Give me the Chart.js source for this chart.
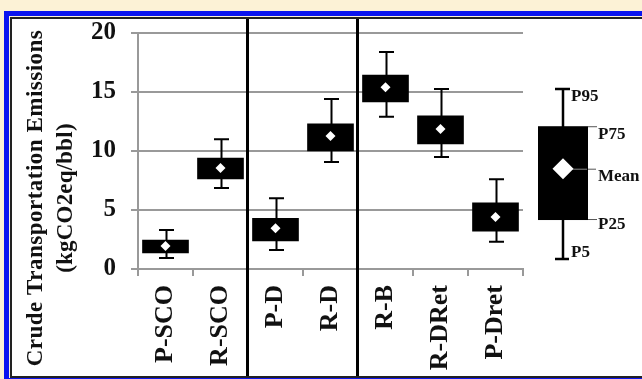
<!DOCTYPE html>
<html>
<head>
<meta charset="utf-8">
<script src="https://cdn.jsdelivr.net/npm/chart.js@4/dist/chart.umd.min.js"></script>
<style>
  html, body { margin: 0; padding: 0; background: #fcf2d6; }
  #wrap { width: 642px; height: 379px; }
</style>
</head>
<body>
<div id="wrap"><canvas id="boxChart"></canvas></div>
<script>
// categories and box statistics (kgCO2eq/bbl)
var categories = ["P-SCO", "R-SCO", "P-D", "R-D", "R-B", "R-DRet", "P-Dret"];
var p5Values   = [0.93, 6.86, 1.6, 9.07, 12.9, 9.5, 2.3];
var p25Values  = [1.36, 7.63, 2.37, 10.0, 14.15, 10.6, 3.2];
var meanValues = [1.95, 8.56, 3.45, 11.27, 15.4, 11.86, 4.4];
var p75Values  = [2.46, 9.4, 4.3, 12.3, 16.44, 12.97, 5.6];
var p95Values  = [3.3, 11.0, 6.0, 14.4, 18.4, 15.25, 7.6];
var yTicks = [0, 5, 10, 15, 20];
var yTitle = ["Crude Transportation Emissions", "(kgCO2eq/bbl)"];
// groups are separated after these category indexes
var separatorsAfter = [1, 3];
// key on the right side
var keyLabels = ["P5", "P25", "Mean", "P75", "P95"];
var keyValues = [0.85, 4.15, 8.5, 12.1, 15.25];

var SERIF = "'Liberation Serif', 'Times New Roman', serif";

function boxRanges() {
    var out = [];
    for (var i = 0; i < categories.length; i++) out.push([p25Values[i], p75Values[i]]);
    return out;
}

// yellow page, blue frame, thin black inner line, white panel
var framePlugin = {
    id: 'frame',
    beforeDraw: function (chart) {
        var ctx = chart.ctx, w = chart.width, h = chart.height;
        ctx.save();
        ctx.fillStyle = '#fcf2d6';
        ctx.fillRect(0, 0, w, h);
        ctx.fillStyle = '#0a14f0';
        ctx.fillRect(4, 11, w + 10, h);
        ctx.fillStyle = '#fcf2d6';
        ctx.fillRect(9, 16, w + 10, 362);
        ctx.fillStyle = '#222222';
        ctx.fillRect(10, 17, w + 10, 361);
        ctx.fillStyle = '#ffffff';
        ctx.fillRect(12, 19, w + 10, 357);
        ctx.restore();
    },
    afterDraw: function (chart) {
        var ctx = chart.ctx;
        ctx.save();
        ctx.fillStyle = '#111';
        ctx.font = 'bold 23px ' + SERIF;
        ctx.textAlign = 'center';
        ctx.textBaseline = 'middle';
        ctx.translate(36, 198);
        ctx.rotate(-Math.PI / 2);
        ctx.letterSpacing = '0.5px';
        ctx.fillText(yTitle[0], 0, 0);
        ctx.letterSpacing = '0.2px';
        ctx.fillText(yTitle[1], 0, 30);
        ctx.restore();
    }
};

// whiskers behind the boxes, group separators, and the key
var boxPlugin = {
    id: 'boxExtras',
    beforeDatasetsDraw: function (chart) {
        var ctx = chart.ctx, x = chart.scales.x, y = chart.scales.y;
        ctx.save();
        ctx.strokeStyle = '#000';
        ctx.lineWidth = 2;
        for (var i = 0; i < categories.length; i++) {
            var cx = Math.round(x.getPixelForValue(i)) + 0.5;
            var top = y.getPixelForValue(p95Values[i]);
            var bot = y.getPixelForValue(p5Values[i]);
            ctx.beginPath();
            ctx.moveTo(cx, top); ctx.lineTo(cx, bot);
            ctx.moveTo(cx - 7.5, top); ctx.lineTo(cx + 7.5, top);
            ctx.moveTo(cx - 7.5, bot); ctx.lineTo(cx + 7.5, bot);
            ctx.stroke();
        }
        ctx.restore();
    },
    afterDatasetsDraw: function (chart) {
        var ctx = chart.ctx, x = chart.scales.x, y = chart.scales.y;
        var area = chart.chartArea;
        ctx.save();
        // separators
        ctx.fillStyle = '#000';
        separatorsAfter.forEach(function (i) {
            var sx = (x.getPixelForValue(i) + x.getPixelForValue(i + 1)) / 2;
            ctx.fillRect(Math.round(sx) - 2, 19, 3, 357);
        });

        // key box
        var kx = area.right + 40;
        var p5 = y.getPixelForValue(keyValues[0]);
        var p25 = y.getPixelForValue(keyValues[1]);
        var mean = y.getPixelForValue(keyValues[2]);
        var p75 = y.getPixelForValue(keyValues[3]);
        var p95 = y.getPixelForValue(keyValues[4]);
        ctx.strokeStyle = '#000';
        ctx.lineWidth = 2.5;
        ctx.beginPath();
        ctx.moveTo(kx, p95); ctx.lineTo(kx, p5);
        ctx.moveTo(kx - 8, p95); ctx.lineTo(kx + 7, p95);
        ctx.moveTo(kx - 8, p5); ctx.lineTo(kx + 6, p5);
        ctx.stroke();
        ctx.fillRect(kx - 25, p75, 50, p25 - p75);
        // leader lines
        ctx.strokeStyle = '#555';
        ctx.lineWidth = 1;
        ctx.beginPath();
        ctx.moveTo(kx + 25, p75 + 0.5); ctx.lineTo(kx + 34, p75 + 0.5);
        ctx.moveTo(kx + 25, p25 - 0.5); ctx.lineTo(kx + 34, p25 - 0.5);
        ctx.moveTo(kx + 25, mean + 0.5); ctx.lineTo(kx + 33, mean + 0.5);
        ctx.stroke();
        ctx.strokeStyle = '#888';
        ctx.beginPath();
        ctx.moveTo(kx + 8, mean + 0.5); ctx.lineTo(kx + 24, mean + 0.5);
        ctx.stroke();
        // diamond
        ctx.fillStyle = '#fff';
        ctx.beginPath();
        ctx.moveTo(kx, mean - 10.5);
        ctx.lineTo(kx + 10.5, mean);
        ctx.lineTo(kx, mean + 10.5);
        ctx.lineTo(kx - 10.5, mean);
        ctx.closePath();
        ctx.fill();
        // labels
        ctx.fillStyle = '#111';
        ctx.font = 'bold 17px ' + SERIF;
        ctx.textAlign = 'left';
        ctx.textBaseline = 'middle';
        ctx.fillText(keyLabels[4], kx + 8, p95 + 8);
        ctx.fillText(keyLabels[3], kx + 35, p75 + 8);
        ctx.fillText(keyLabels[2], kx + 35, mean + 8);
        ctx.fillText(keyLabels[1], kx + 35, p25 + 5);
        ctx.fillText(keyLabels[0], kx + 8, p5 - 6);
        ctx.restore();
    }
};

var ctx = document.getElementById('boxChart').getContext('2d');
window.boxChart = new Chart(ctx, {
    data: {
        labels: categories,
        datasets: [{
            type: 'line',
            label: 'Mean',
            data: meanValues,
            showLine: false,
            pointStyle: 'rectRot',
            pointRadius: 5,
            pointHoverRadius: 5,
            pointBackgroundColor: '#fff',
            pointBorderWidth: 0,
            borderColor: '#fff',
            order: 0
        }, {
            type: 'bar',
            label: 'P25-P75',
            data: boxRanges(),
            backgroundColor: '#000',
            borderWidth: 0,
            barThickness: 46,
            order: 1
        }]
    },
    options: {
        responsive: true,
        maintainAspectRatio: false,
        animation: false,
        layout: { padding: { left: 0, top: 33, right: 119, bottom: 0 } },
        plugins: {
            legend: { display: false },
            tooltip: { enabled: false }
        },
        scales: {
            x: {
                offset: true,
                grid: {
                    offset: true,
                    drawOnChartArea: false,
                    drawTicks: true,
                    tickLength: 7,
                    color: '#999',
                    lineWidth: 2
                },
                border: { color: '#999', width: 2 },
                ticks: {
                    minRotation: 90,
                    maxRotation: 90,
                    padding: 9,
                    color: '#111',
                    font: { family: SERIF, size: 26, weight: 'bold' }
                },
                afterFit: function (s) { s.height = 110; }
            },
            y: {
                min: 0,
                max: 20,
                afterBuildTicks: function (s) {
                    s.ticks = yTicks.map(function (v) { return { value: v }; });
                },
                grid: {
                    color: '#999',
                    lineWidth: 2,
                    tickLength: 7
                },
                border: { color: '#999', width: 2 },
                ticks: {
                    padding: 15,
                    color: '#111',
                    font: { family: SERIF, size: 25, weight: 'bold' }
                },
                afterFit: function (s) { s.width = 138; }
            }
        }
    },
    plugins: [framePlugin, boxPlugin]
});
</script>
</body>
</html>
